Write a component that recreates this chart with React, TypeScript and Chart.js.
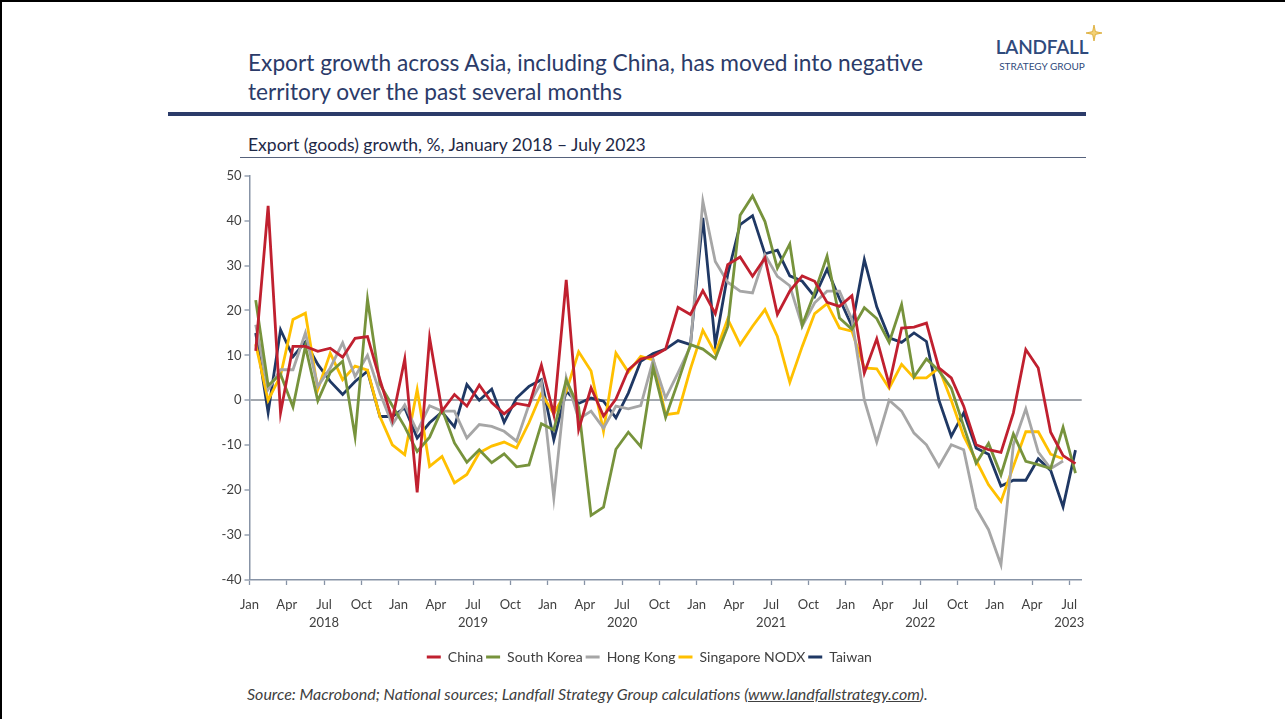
import React, { useEffect, useRef } from "react";
import { Chart, registerables } from "chart.js";

Chart.register(...registerables);

// ---------- data ----------
const startYear = 2018;
const monthLabels = ["Jan", "Feb", "Mar", "Apr", "May", "Jun", "Jul", "Aug", "Sep", "Oct", "Nov", "Dec"];
const seriesNames = ["China", "South Korea", "Hong Kong", "Singapore NODX", "Taiwan"];
const seriesColors = ["#c0202f", "#77933c", "#a6a6a6", "#ffc000", "#1f3864"];
const yMin = -40;
const yMax = 50;
const yStep = 10;

// Monthly values, Jan 2018 .. Jul 2023 (67 months)
const china = [
  11, 43.3, -2.8, 12, 12, 10.9, 11.6, 9.6, 13.8, 14.2, 4.6, -4.3,
  9.2, -20.5, 13.9, -2.4, 1.3, -1.3, 3.4, -0.5, -3, -0.7, -1.2, 7.8,
  -3.2, 26.8, -6.5, 2.8, -3.5, 0.3, 6.8, 9.2, 9.8, 11.4, 20.7, 19.1,
  24.4, 19.3, 30.2, 31.9, 27.6, 31.7, 19.1, 24.3, 27.7, 26.5, 21.8, 20.9,
  23.3, 6.1, 13.7, 3.5, 16.1, 16.3, 17.2, 7.2, 5, -1.3, -9.9, -11,
  -11.6, -2.8, 11.3, 7.2, -7.1, -12.3, -14.1,
];
const southKorea = [
  22.3, 3.3, 5.8, -1.5, 12, -0.1, 6.2, 8.7, -8.1, 22.5, 3.6, -1.2,
  -5.9, -11.4, -8.2, -2.0, -9.5, -13.8, -11.0, -13.9, -11.9, -14.8, -14.4, -5.2,
  -6.6, 4.5, -1.6, -25.6, -23.8, -10.9, -7.1, -10.3, 7.3, -3.8, 4.1, 12.4,
  11.4, 9.3, 16.4, 41.2, 45.5, 39.8, 29.4, 34.8, 16.7, 24.0, 32.1, 18.3,
  15.8, 20.6, 18.2, 12.9, 21.3, 5.2, 9.2, 6.6, 2.7, -5.8, -14.0, -9.6,
  -16.6, -7.5, -13.6, -14.3, -15.2, -6.0, -16.2,
];
const hongKong = [
  16.8, 2.4, 6.8, 6.8, 15, 3.1, 7.2, 12.8, 5.3, 10, 1.6, -5.4,
  -1, -6.9, -1.2, -2.4, -2.4, -8.4, -5.4, -5.8, -6.9, -9.1, -1, 4,
  -21.7, 5, -4.2, -2.4, -6.2, -1.3, -1.9, -1.2, 9, 0.5, 6.1, 12,
  44.3, 30.9, 26.3, 24.3, 23.9, 32.4, 27.6, 25.5, 16.5, 21.7, 24.3, 24.3,
  18, 0.1, -9.3, 0, -2.4, -7.3, -9.9, -14.7, -9.9, -11, -24, -28.8,
  -36.6, -9.9, -1.9, -11.5, -15.2, -13.5, null,
];
const singaporeNodx = [
  12.5, 0, 5.5, 18, 19.4, 2.4, 10.5, 4.6, 7.6, 6.7, -3.6, -9.9,
  -12.1, 2.4, -14.7, -12.5, -18.4, -16.5, -11.7, -10.2, -9.3, -10.6, -5, 1.5,
  -3, 2, 10.8, 6.5, -6.9, 10.5, 6.3, 9.8, 9, -3.2, -2.8, 7,
  15.6, 10.5, 18.1, 12.4, 16.5, 20.2, 14.2, 4, 12, 19.3, 21.5, 16.1,
  15.4, 7.2, 7, 2.7, 8, 5, 5, 7.2, 0, -8, -13.4, -18.8,
  -22.5, -14.7, -7, -7, -12, -13, null,
];
const taiwan = [
  15, -2.7, 15.7, 9.7, 13, 8, 4.2, 1.3, 4.2, 6.5, -3.6, -3.6,
  -1.7, -8.4, -5, -2.6, -5.9, 3.5, 0, 2.5, -4.9, 0.5, 3.1, 4.6,
  -8.8, 2, -0.7, 0.5, -0.2, -3.9, 1.6, 8.7, 10.4, 11.4, 13.3, 12.4,
  40.6, 12.4, 28, 39.1, 41.1, 32.6, 33.4, 27.7, 26.5, 23.1, 29.2, 22.6,
  16.5, 31.3, 20.8, 13.9, 12.9, 15, 13.1, 0.1, -8, -2.8, -10.6, -12,
  -19.1, -17.8, -17.8, -13, -15.6, -23.7, -11.1,
];

const seriesValues = [china, southKorea, hongKong, singaporeNodx, taiwan];
const monthCount = china.length;

const FONT = "Lato, 'Open Sans', sans-serif";
const NAVY = "#2b3b69";
const AXIS = "#8793a6";
const TEXT = "#404040";

function ExportChart() {
  const ref = useRef<HTMLCanvasElement | null>(null);

  useEffect(() => {
    const canvas = ref.current;
    if (!canvas) return;
    const chart = new Chart(canvas, {
      type: "line",
      data: {
        datasets: seriesValues.map((vals, k) => ({
          label: seriesNames[k],
          data: vals.map((v, i) => ({ x: i + 0.5, y: v })),
          borderColor: seriesColors[k],
          backgroundColor: seriesColors[k],
          borderWidth: 2.8,
          pointRadius: 0,
          pointHoverRadius: 0,
          tension: 0,
          spanGaps: false,
        })),
      },
      options: {
        animation: false,
        responsive: false,
        maintainAspectRatio: false,
        events: [],
        layout: { padding: { left: 0, right: 18.3, top: 15.7, bottom: 6 } },
        plugins: {
          tooltip: { enabled: false },
          legend: {
            position: "bottom",
            labels: {
              usePointStyle: true,
              pointStyle: "line",
              pointStyleWidth: 14,
              boxHeight: 14,
              padding: 3,
              color: TEXT,
              font: { family: FONT, size: 14 },
            },
          },
        },
        scales: {
          x: {
            type: "linear",
            min: 0,
            max: monthCount,
            afterFit: (s: any) => {
              s.height = 67;
            },
            ticks: {
              stepSize: 3,
              includeBounds: false,
              autoSkip: false,
              maxRotation: 0,
              minRotation: 0,
              padding: 10.9,
              color: TEXT,
              font: { family: FONT, size: 13, lineHeight: 1.4 },
              callback: (v: any) => {
                const n = Math.round(Number(v));
                const m = n % 12;
                const name = monthLabels[m];
                if (m === 6) return [name, String(startYear + Math.floor(n / 12))];
                return name;
              },
            },
            grid: {
              drawOnChartArea: false,
              drawTicks: true,
              tickLength: 5,
              tickColor: AXIS,
              tickWidth: 1.3,
            },
            border: { color: AXIS, width: 1.5 },
          },
          y: {
            min: yMin,
            max: yMax,
            afterFit: (s: any) => {
              s.width = 32.5;
            },
            ticks: {
              stepSize: yStep,
              padding: 3,
              color: TEXT,
              font: { family: FONT, size: 13 },
            },
            grid: {
              color: (c: any) => (c.tick && c.tick.value === 0 ? "#a2a7ae" : "rgba(0,0,0,0)"),
              lineWidth: (c: any) => (c.tick && c.tick.value === 0 ? 2 : 0),
              tickColor: AXIS,
              tickLength: 5,
              tickWidth: 1.3,
            },
            border: { color: AXIS, width: 1.5 },
          },
        },
      },
    } as any);
    return () => chart.destroy();
  }, []);

  return (
    <canvas
      ref={ref}
      width={883}
      height={520}
      style={{ position: "absolute", left: 217, top: 160, width: 883, height: 520 }}
    />
  );
}

export default function App() {
  return (
    <div
      style={{
        position: "absolute",
        left: 0,
        top: 0,
        width: 1285,
        height: 719,
        background: "#ffffff",
        overflow: "hidden",
        fontFamily: FONT,
      }}
    >
      {/* page frame */}
      <div style={{ position: "absolute", left: 0, top: 0, width: 1285, height: 2, background: "#000" }} />
      <div style={{ position: "absolute", left: 0, top: 0, width: 2, height: 719, background: "#000" }} />

      {/* title */}
      <div
        style={{
          position: "absolute",
          left: 248,
          top: 48,
          fontSize: 22.7,
          lineHeight: "29px",
          color: NAVY,
          whiteSpace: "nowrap",
        }}
      >
        Export growth across Asia, including China, has moved into negative
        <br />
        territory over the past several months
      </div>

      {/* logo */}
      <div
        style={{
          position: "absolute",
          left: 994,
          top: 36,
          width: 96,
          textAlign: "center",
          color: "#2f4a7c",
          fontSize: 19,
          lineHeight: "22px",
          fontWeight: 600,
          letterSpacing: -0.2,
        }}
      >
        LANDFALL
      </div>
      <div
        style={{
          position: "absolute",
          left: 994,
          top: 61,
          width: 96,
          textAlign: "center",
          color: "#2f4a7c",
          fontSize: 10,
          lineHeight: "11px",
        }}
      >
        STRATEGY GROUP
      </div>
      <svg style={{ position: "absolute", left: 1086, top: 25 }} width={16} height={16} viewBox="0 0 16 16">
        <path d="M8 0 L9.4 6.6 L16 8 L9.4 9.4 L8 16 L6.6 9.4 L0 8 L6.6 6.6 Z" fill="#f3d27a" stroke="#d8a62a" strokeWidth={0.8} />
      </svg>

      {/* thick rule */}
      <div style={{ position: "absolute", left: 168, top: 112, width: 918, height: 4, background: NAVY }} />

      {/* subtitle */}
      <div
        style={{
          position: "absolute",
          left: 248,
          top: 134,
          fontSize: 17.5,
          lineHeight: "21px",
          color: "#1e2947",
          whiteSpace: "nowrap",
        }}
      >
        Export (goods) growth, %, January 2018 – July 2023
      </div>
      <div style={{ position: "absolute", left: 240, top: 157, width: 846, height: 1, background: "#56627c" }} />

      <ExportChart />

      {/* source */}
      <div
        style={{
          position: "absolute",
          left: 247,
          top: 685,
          fontSize: 16,
          lineHeight: "18px",
          fontStyle: "italic",
          color: TEXT,
          whiteSpace: "nowrap",
        }}
      >
        Source: Macrobond; National sources; Landfall Strategy Group calculations (
        <span style={{ textDecoration: "underline" }}>www.landfallstrategy.com</span>).
      </div>
    </div>
  );
}
